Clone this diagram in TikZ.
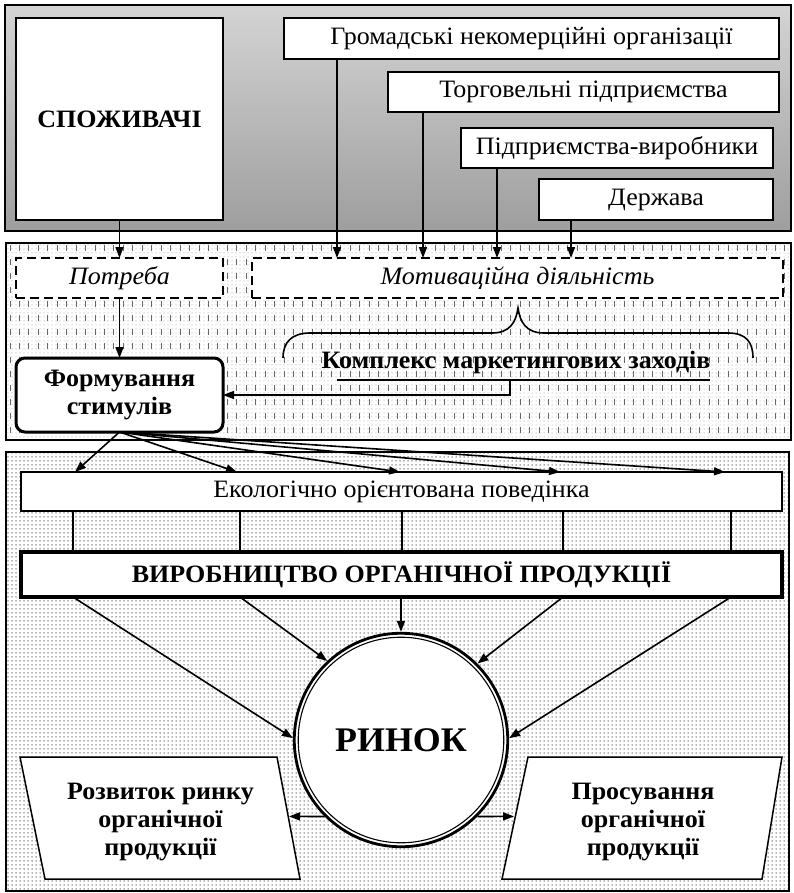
\documentclass[tikz,border=0pt]{standalone}
\usepackage{fontspec}
\setmainfont{Liberation Serif}[FakeStretch=1.04]
\usetikzlibrary{arrows.meta,patterns,calc}
\pgfdeclarepatternformonly{mydots}{\pgfqpoint{-1pt}{-1pt}}{\pgfqpoint{1pt}{1pt}}{\pgfqpoint{4pt}{4pt}}{\pgfpathcircle{\pgfqpoint{0pt}{0pt}}{0.75pt}\pgfusepath{fill}}
\newcommand\myreg{\fontsize{25}{29}\selectfont}
\newcommand\mybold{\fontsize{25}{28}\selectfont\bfseries}
\newcommand\myital{\fontsize{25}{29}\selectfont\itshape}
\begin{document}
\begin{tikzpicture}[x=1pt,y=-1pt,
  arr/.style={-{Triangle[length=11pt,width=8pt]}, line width=1.6pt},
  wbox/.style={draw, fill=white, line width=2pt, inner sep=0pt, outer sep=0pt, font=\myreg},
  dbox/.style={draw, fill=white, line width=2.5pt, dash pattern=on 9pt off 5pt, inner sep=0pt, outer sep=0pt, font=\myital},
  conn/.style={line width=1.6pt},
  panel/.style={line width=1.5pt}
]
\useasboundingbox (0,0) rectangle (794,893);
% ---------- top panel
\shade[top color=black!17, bottom color=black!38] (5,5) rectangle (791,231);
\draw[panel] (5,5) rectangle (791,231);
% ---------- middle panel
\begin{scope}
\clip (6,243) rectangle (791,440);
\fill[white] (6,243) rectangle (791,440);
\pattern[pattern=mydots, pattern color=black!18] (6,243) rectangle (791,440);
\foreach \i in {0,...,83} \draw[black!60, line width=1pt, dash pattern=on 6pt off 8pt] (10+\i*9.45,245) -- (10+\i*9.45,442);
\end{scope}
\draw[panel] (6,243) rectangle (791,440);
% ---------- bottom panel
\fill[white] (6,452) rectangle (789,891);
\pattern[pattern=mydots, pattern color=black!60] (6,452) rectangle (789,891);
\draw[panel] (6,452) rectangle (789,891);

% ---------- top boxes
\node[wbox, line width=2.5pt, minimum width=207pt, minimum height=202pt, font=\mybold] (spoz) at (119.5,119) {\raisebox{-7pt}{СПОЖИВАЧІ}};
\node[wbox, minimum width=495pt, minimum height=41pt] (gr) at (531.5,38.5) {Громадські некомерційні організації};
\node[wbox, minimum width=391pt, minimum height=40pt] (tor) at (583.5,92) {Торговельні підприємства};
\node[wbox, minimum width=312pt, minimum height=40pt] (pid) at (617,148) {Підприємства-виробники};
\node[wbox, minimum width=234pt, minimum height=41pt] (der) at (656,199.5) {Держава};

% ---------- middle boxes
\node[dbox, minimum width=207pt, minimum height=40pt] (pot) at (119.5,278) {Потреба};
\node[dbox, minimum width=531pt, minimum height=40pt] (mot) at (517.5,278) {Мотиваційна діяльність};
\node[draw, fill=white, line width=3pt, rounded corners=9pt, inner sep=0pt, outer sep=0pt, minimum width=207pt, minimum height=74pt, align=center, font=\mybold] (form) at (119.5,395) {Формування\\стимулів};
\node[font=\mybold, anchor=base, inner sep=0pt] (kom) at (516,368) {Комплекс маркетингових заходів};

% brace
\draw[line width=1.6pt] (283,358) .. controls (283,342) and (292,333) .. (310,333) -- (492,333)
  .. controls (510,333) and (516,322) .. (518,308) .. controls (520,322) and (526,333) .. (544,333)
  -- (728,333) .. controls (746,333) and (753,342) .. (753,358);
% underline
\coordinate (u1) at (337,380);
\coordinate (u2) at (710,380);
\coordinate (ku) at (510,380);
\draw[line width=2pt] (u1) -- (u2);
\draw[arr] (ku) |- (form.east);

% top connectors
\coordinate (xg) at (337,0);
\coordinate (xt) at (423,0);
\coordinate (xp) at (497,0);
\coordinate (xd) at (571,0);
\draw[arr] (spoz.south) -- (pot.north);
\draw[arr] (gr.south -| xg) -- (mot.north -| xg);
\draw[arr] (tor.south -| xt) -- (mot.north -| xt);
\draw[arr] (pid.south -| xp) -- (mot.north -| xp);
\draw[arr] (der.south -| xd) -- (mot.north -| xd);
\draw[arr] (pot.south) -- (form.north);

% ---------- bottom
\node[wbox, minimum width=761pt, minimum height=39pt] (eco) at (401.5,491.5) {Екологічно орієнтована поведінка};
\node[wbox, line width=4pt, minimum width=761pt, minimum height=45pt, font=\mybold] (vyr) at (401.5,574.5) {ВИРОБНИЦТВО ОРГАНІЧНОЇ ПРОДУКЦІЇ};

\coordinate (f1) at (75,0);
\coordinate (f2) at (237,0);
\coordinate (f3) at (400,0);
\coordinate (f4) at (560,0);
\coordinate (f5) at (725,0);
\foreach \f in {f1,f2,f3,f4,f5} \draw[arr] (form.south) -- (eco.north -| \f);

\coordinate (v1) at (73,0);
\coordinate (v2) at (240,0);
\coordinate (v3) at (402,0);
\coordinate (v4) at (563,0);
\coordinate (v5) at (731,0);
\foreach \v in {v1,v2,v3,v4,v5} \draw[conn] (eco.south -| \v) -- (vyr.north -| \v);

% market circle
\node[circle, draw, fill=white, line width=2.8pt, minimum size=213.5pt, inner sep=0pt, font=\fontsize{34.5}{38}\selectfont\bfseries] (rin) at (401,740) {\raisebox{-3pt}{РИНОК}};
\draw[line width=1.1pt] (rin.center) circle (102.8pt);

\draw[arr] (vyr.south -| v1) -- (rin.179);
\draw[arr] (vyr.south -| v2) -- (rin.133);
\draw[arr] (vyr.south -| rin.north) -- (rin.north);
\draw[arr] (vyr.south -| v4) -- (rin.45);
\draw[arr] (vyr.south -| v5) -- (rin.1);

% parallelograms
\draw[line width=1.5pt, fill=white] (20,757) -- (277,757) -- (300,879) -- (45,879) -- cycle;
\node[align=center, font=\mybold, inner sep=0pt] (lpar) at (160.5,822) {Розвиток ринку\\органічної\\продукції};
\draw[line width=1.5pt, fill=white] (528,757) -- (782,757) -- (762,879) -- (502,879) -- cycle;
\node[align=center, font=\mybold, inner sep=0pt] (rpar) at (643,822) {Просування\\органічної\\продукції};
\coordinate (lpe) at (289,816.4);
\coordinate (rpe) at (514,816.4);
\draw[arr] (rin.225) -- (lpe);
\draw[arr] (rin.-45) -- (rpe);
\end{tikzpicture}
\end{document}
